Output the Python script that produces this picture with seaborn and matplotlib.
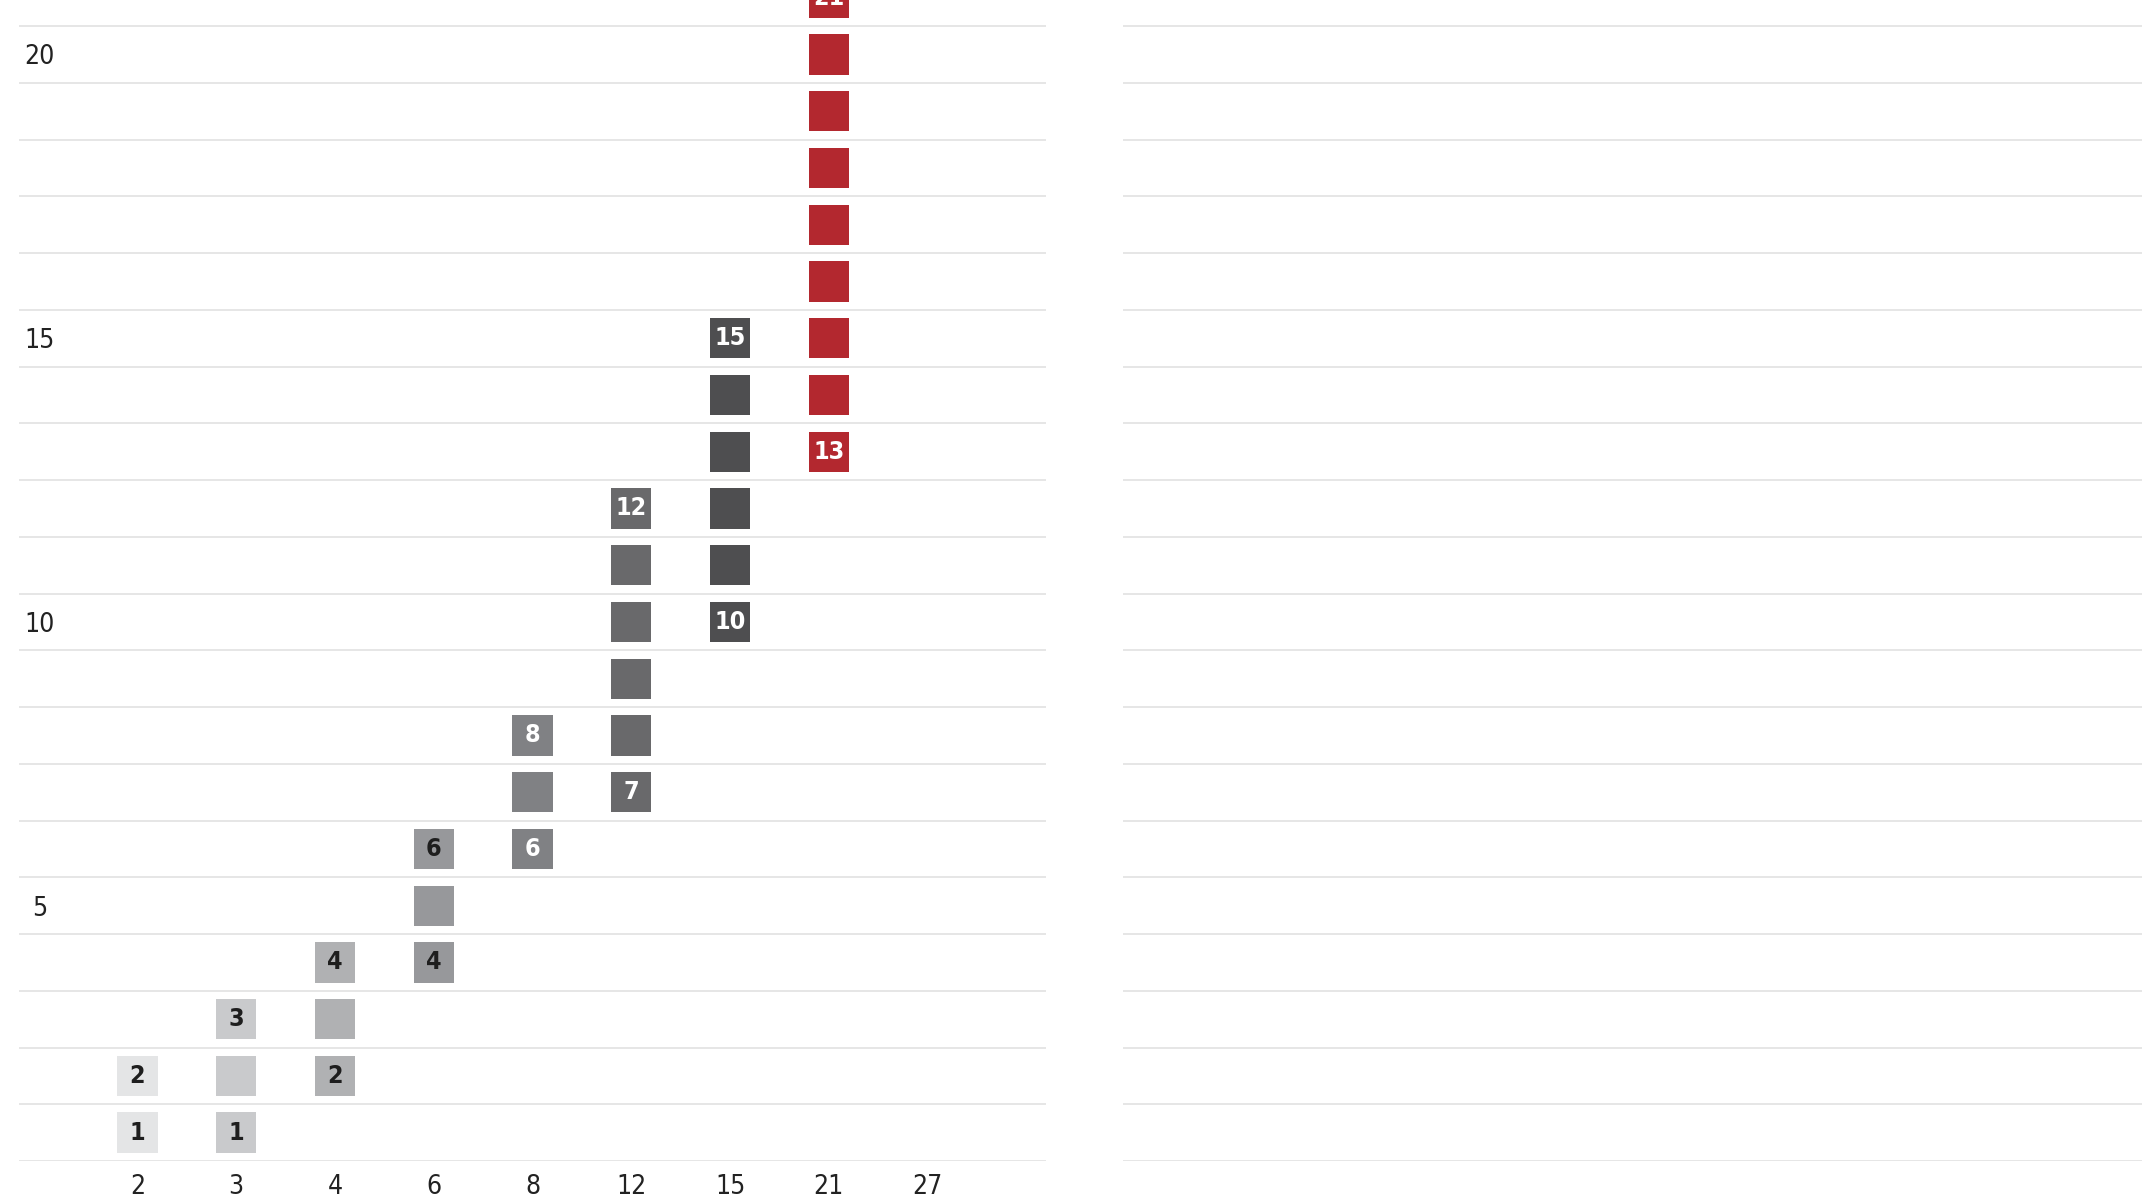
import numpy as np
import pandas as pd
import matplotlib.pyplot as plt
import seaborn as sns

# columns and the range of squares stacked in each
categories = ['2', '3', '4', '6', '8', '12', '15', '21', '27']
low = [1, 1, 2, 4, 6, 7, 10, 13, np.nan]
high = [2, 3, 4, 6, 8, 12, 15, 21, np.nan]
colors = ['#e4e5e6', '#c9cacc', '#b0b1b3', '#97989b', '#808184',
          '#69696b', '#4e4e50', '#b3282f', '#3a3a3c']
label_colors = ['#1e1e1e', '#1e1e1e', '#1e1e1e', '#1e1e1e', '#ffffff',
                '#ffffff', '#ffffff', '#ffffff', '#ffffff']
ytick_values = [5, 10, 15, 20]

rows = []
for cat, lo, hi in zip(categories, low, high):
    if np.isnan(lo):
        continue
    for v in range(int(lo), int(hi) + 1):
        rows.append({'col': cat, 'value': v})
df = pd.DataFrame(rows)

sns.set_style('white')
plt.rcParams['font.family'] = ['DejaVu Sans']
plt.rcParams['font.stretch'] = 'condensed'

fig = plt.figure(figsize=(21.42, 11.98), dpi=100)
W, H = 2142, 1198
ax = fig.add_axes([19 / W, 1 - 1161 / H, (1046 - 19) / W, 1161 / H])
ax2 = fig.add_axes([1123 / W, 1 - 1161 / H, 1 - 1123 / W, 1161 / H])

sns.stripplot(data=df, x='col', y='value', hue='col', order=categories,
              palette=dict(zip(categories, colors)), marker='s', size=29,
              jitter=False, linewidth=0, legend=False, ax=ax, zorder=3)

# labels on first and last square of each column
for i, (lo, hi) in enumerate(zip(low, high)):
    if np.isnan(lo):
        continue
    for v in sorted({int(lo), int(hi)}):
        ax.text(i, v, str(v), ha='center', va='center', fontsize=18,
                fontweight='bold', color=label_colors[i], zorder=4)

for a in (ax, ax2):
    a.set_ylim(0.5, 20.96)
    a.set_yticks(np.arange(0.5, 21, 1), minor=True)
    a.grid(which='minor', axis='y', color='#e1e1e1', linewidth=1.2)
    a.grid(which='major', visible=False)
    sns.despine(ax=a, left=True, bottom=True, top=True, right=True)
    a.set_xlabel('')
    a.set_ylabel('')
    a.tick_params(which='both', length=0)

ax.set_xlim(-1.2, 9.2)
ax.set_yticks(ytick_values)
ax.set_yticklabels([str(v) for v in ytick_values], fontsize=19, color='#222222')
ax.tick_params(axis='y', pad=-15)
for t in ax.get_yticklabels():
    t.set_horizontalalignment('center')
ax.tick_params(axis='x', pad=9, labelsize=19, labelcolor='#222222')

ax2.set_xticks([])
ax2.set_yticks([])

fig.savefig('out.png', dpi=100)
